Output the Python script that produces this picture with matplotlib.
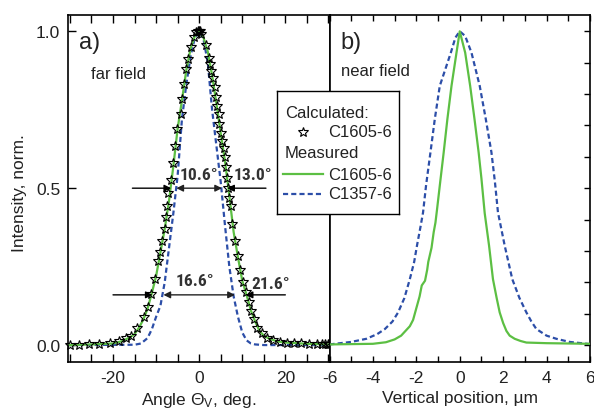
import matplotlib
matplotlib.use("Agg")
import matplotlib.pyplot as plt
from matplotlib.ticker import MultipleLocator, FormatStrFormatter
from matplotlib.lines import Line2D
from matplotlib import font_manager

plt.rcParams['font.family'] = ['Liberation Sans', 'DejaVu Sans']
plt.rcParams['mathtext.fontset'] = 'custom'
plt.rcParams['mathtext.rm'] = 'Liberation Sans'
plt.rcParams['mathtext.it'] = 'Liberation Sans'
plt.rcParams['axes.unicode_minus'] = False

TEXT = '#222222'
GREEN = '#5cbf43'
BLUE = '#2c4ea8'


def _condensed_bold():
    """Pick an installed condensed/narrow bold sans face for the width labels."""
    best = None
    for f in font_manager.fontManager.ttflist:
        name = f.name
        tag = (str(f.stretch) + ' ' + name + ' ' + f.fname).lower()
        narrow = ('condensed' in tag or 'narrow' in tag) and 'semi' not in tag \
            and 'extra' not in tag and 'ultra' not in tag
        weight = f.weight if isinstance(f.weight, int) else \
            {'bold': 700, 'semibold': 600, 'normal': 400}.get(str(f.weight), 400)
        if not narrow or weight < 600 or f.style != 'normal':
            continue
        if 'mono' in tag or 'serif' in name.lower() and 'sans' not in name.lower():
            continue
        rank = 0 if 'liberation' in tag else 1 if 'roboto' in tag else \
            2 if 'noto sans' in tag else 3 if 'dejavu' in tag else 4
        if best is None or rank < best[0]:
            best = (rank, f.fname)
    if best:
        return dict(fontproperties=font_manager.FontProperties(fname=best[1], size=12.5))
    return dict(family=['Liberation Sans'], fontsize=11, fontweight='bold')


WIDTH_FONT = _condensed_bold()

# ---- far field (angle, deg) ----
calc_angle = [-30.1, -27.9, -25.6, -23.3, -20.8, -18.6, -16.9, -15.8, -14.4, -12.8,
              -11.9, -11.1, -10.2, -9.6, -9.0, -8.6, -8.0, -7.6, -7.4, -7.3,
              -6.6, -6.1, -5.7, -5.2, -4.3, -3.9, -3.5, -3.0, -2.5, -1.9,
              -1.2, -0.7, -0.3, 0.0, 0.3, 0.5, 1.6, 2.25, 2.55, 2.8,
              3.2, 3.6, 3.9, 4.2, 4.5, 4.7, 5.0, 5.3, 5.7, 5.9,
              6.3, 6.5, 6.8, 7.0, 7.3, 7.7, 8.4, 9.0, 9.5, 10.1,
              10.9, 11.5, 12.1, 12.7, 13.5, 14.5, 15.8, 17.1, 18.7, 20.4,
              22.1, 23.7, 25.6, 27.4, 28.6, 29.3, 29.8, 30.2]
calc_int = [0.001, 0.001, 0.003, 0.003, 0.006, 0.014, 0.021, 0.030, 0.054, 0.088,
            0.122, 0.162, 0.210, 0.267, 0.297, 0.332, 0.369, 0.407, 0.444, 0.486,
            0.525, 0.579, 0.635, 0.688, 0.738, 0.783, 0.833, 0.879, 0.913, 0.950,
            0.983, 0.999, 1.0, 1.0, 1.0, 0.993, 0.957, 0.916, 0.895, 0.874,
            0.850, 0.821, 0.791, 0.762, 0.736, 0.704, 0.677, 0.651, 0.628, 0.598,
            0.566, 0.534, 0.502, 0.470, 0.444, 0.385, 0.332, 0.284, 0.239, 0.200,
            0.168, 0.136, 0.107, 0.083, 0.054, 0.037, 0.024, 0.016, 0.011, 0.008,
            0.006, 0.005, 0.003, 0.003, 0.003, 0.003, 0.003, 0.003]

far_angle_c1605 = [-30, -25, -20, -18, -16, -15, -14, -13, -12, -11, -10, -9, -8, -7, -6,
                   -5, -4, -3, -2, -1, 0, 1, 2, 3, 4, 5, 6, 7, 8, 9, 10, 11, 12, 13,
                   14, 15, 16, 18, 20, 25, 30]
far_int_c1605 = [0.0, 0.002, 0.005, 0.012, 0.025, 0.035, 0.055, 0.08, 0.115, 0.165,
                 0.22, 0.295, 0.37, 0.46, 0.57, 0.69, 0.78, 0.875, 0.945, 0.985, 1.0,
                 0.98, 0.935, 0.86, 0.77, 0.675, 0.585, 0.475, 0.36, 0.28, 0.205,
                 0.16, 0.11, 0.075, 0.045, 0.03, 0.022, 0.012, 0.008, 0.004, 0.002]

far_angle_c1357 = [-30, -15, -13.5, -12, -11, -10, -9, -8, -7, -6, -5, -4, -3, -2, -1,
                   0, 1, 2, 3, 4, 5, 6, 7, 8, 9, 10, 11, 12, 13, 15, 30]
far_int_c1357 = [0.0, 0.001, 0.005, 0.022, 0.05, 0.09, 0.125, 0.2, 0.31, 0.42, 0.54,
                 0.72, 0.83, 0.92, 0.98, 1.0, 0.975, 0.9, 0.75, 0.635, 0.52, 0.38,
                 0.25, 0.155, 0.09, 0.04, 0.015, 0.005, 0.002, 0.0, 0.0]

# widths marked with arrows: (level, inner width, outer width, arrow start)
width_level = [0.5, 0.16]
width_inner = [10.6, 16.6]
width_outer = [13.0, 21.6]
arrow_reach = [15.5, 20.0]

# ---- near field (vertical position, um) ----
near_pos_c1605 = [-6, -5, -4, -3.4, -3.0, -2.7, -2.5, -2.3, -2.15, -2.05, -1.95, -1.85,
                  -1.75, -1.6, -1.5, -1.45, -1.3, -1.2, -1.12, -1.05, -0.9, -0.74,
                  -0.57, -0.38, -0.15, 0.0, 0.25, 0.48, 0.68, 0.87, 1.0, 1.15, 1.35,
                  1.53, 1.7, 1.84, 2.0, 2.15, 2.3, 2.53, 2.8, 3.07, 4, 5, 6]
near_int_c1605 = [0.002, 0.003, 0.004, 0.009, 0.018, 0.03, 0.045, 0.06, 0.08, 0.105,
                  0.13, 0.155, 0.19, 0.205, 0.24, 0.265, 0.31, 0.36, 0.39, 0.43, 0.52,
                  0.614, 0.72, 0.826, 0.932, 1.0, 0.932, 0.826, 0.72, 0.614, 0.53,
                  0.42, 0.317, 0.21, 0.15, 0.104, 0.07, 0.045, 0.03, 0.02, 0.013,
                  0.008, 0.006, 0.005, 0.004]

near_pos_c1357 = [-6, -5, -4.3, -3.8, -3.45, -3.1, -2.84, -2.55, -2.3, -2.1, -1.97,
                  -1.8, -1.69, -1.55, -1.35, -1.15, -0.92, -0.41, -0.2, 0.0, 0.25,
                  0.54, 0.92, 1.2, 1.46, 1.62, 1.76, 2.07, 2.42, 2.75, 3.07, 3.3,
                  3.53, 4.0, 4.45, 5.06, 6]
near_int_c1357 = [0.002, 0.01, 0.02, 0.035, 0.051, 0.075, 0.104, 0.15, 0.21, 0.265,
                  0.317, 0.38, 0.423, 0.51, 0.614, 0.72, 0.826, 0.932, 0.98, 1.0,
                  0.985, 0.932, 0.826, 0.72, 0.614, 0.52, 0.423, 0.317, 0.21, 0.15,
                  0.104, 0.075, 0.051, 0.03, 0.02, 0.01, 0.003]

fig = plt.figure(figsize=(5.94, 4.10), dpi=100)
W, H = 594.0, 410.0
axL = fig.add_axes([68 / W, 1 - 363 / H, 261.5 / W, 347 / H])
axR = fig.add_axes([329.5 / W, 1 - 363 / H, 260.5 / W, 347 / H])

dash = (0, (2.3, 1.4))

# panel a: far field
axL.plot(far_angle_c1357, far_int_c1357, color=BLUE, lw=1.6, linestyle=dash, zorder=2)
axL.plot(far_angle_c1605, far_int_c1605, color=GREEN, lw=1.6, zorder=3)
axL.plot(calc_angle, calc_int, linestyle='none', marker='*', markersize=7,
         markerfacecolor='none', markeredgecolor='black', markeredgewidth=0.8,
         zorder=4, clip_on=False)

for lvl, w_in, w_out, reach in zip(width_level, width_inner, width_outer, arrow_reach):
    ap = dict(arrowstyle='-|>', color='black', lw=1.0, mutation_scale=10,
              shrinkA=0, shrinkB=0)
    axL.annotate('', xy=(-w_out / 2, lvl), xytext=(-reach, lvl), arrowprops=ap, zorder=5)
    axL.annotate('', xy=(w_out / 2, lvl), xytext=(reach, lvl), arrowprops=ap, zorder=5)
    axL.annotate('', xy=(w_in / 2, lvl), xytext=(-w_in / 2, lvl),
                 arrowprops=dict(arrowstyle='<|-|>', color='#222222', lw=1.0,
                                 mutation_scale=10, shrinkA=0, shrinkB=0), zorder=5)

lab_kw = dict(color='#333333', va='center', **WIDTH_FONT)
axL.text(-4.6, 0.545, f'{width_inner[0]:.1f}°', ha='left', **lab_kw)
axL.text(8.0, 0.545, f'{width_outer[0]:.1f}°', ha='left', **lab_kw)
axL.text(-1.0, 0.207, f'{width_inner[1]:.1f}°', ha='center', **lab_kw)
axL.text(12.1, 0.197, f'{width_outer[1]:.1f}°', ha='left', **lab_kw)

axL.set_xlim(-30.45, 30.25)
axL.xaxis.set_major_locator(MultipleLocator(20))
axL.xaxis.set_minor_locator(MultipleLocator(5))
axL.yaxis.set_major_locator(MultipleLocator(0.5))
axL.yaxis.set_major_formatter(FormatStrFormatter('%.1f'))
axL.tick_params(which='both', direction='in', top=True, right=False,
                length=5.5, width=1.0, labelsize=12.5, labelcolor=TEXT, pad=5.5)
axL.set_ylabel('Intensity, norm.', fontsize=12.5, color=TEXT)
axL.yaxis.set_label_coords(-0.158, 0.49)
axL.set_xlabel('Angle Θ$_\\mathrm{V}$, deg.', fontsize=12.5, color=TEXT)
axL.xaxis.set_label_coords(0.5, -0.08)
axL.text(0.042, 0.922, 'a)', transform=axL.transAxes, fontsize=17, color=TEXT,
         va='center', ha='left')
axL.text(0.088, 0.83, 'far field', transform=axL.transAxes, fontsize=12, color=TEXT,
         va='center', ha='left')

# panel b: near field
axR.plot(near_pos_c1357, near_int_c1357, color=BLUE, lw=1.6, linestyle=dash, zorder=2)
axR.plot(near_pos_c1605, near_int_c1605, color=GREEN, lw=1.6, zorder=3)
axR.set_xlim(-6, 6)
axR.xaxis.set_major_locator(MultipleLocator(2))
axR.xaxis.set_minor_locator(MultipleLocator(1))
axR.yaxis.set_major_locator(MultipleLocator(0.5))
axR.yaxis.set_minor_locator(MultipleLocator(0.1))
axR.tick_params(which='both', direction='in', top=True, right=True, left=False,
                labelleft=False, labelright=False, length=4.5, width=1.0,
                labelsize=12.5, labelcolor=TEXT, pad=5.5)
axR.set_xlabel('Vertical position, µm', fontsize=12.5, color=TEXT)
axR.xaxis.set_label_coords(0.5, -0.08)
axR.text(0.043, 0.922, 'b)', transform=axR.transAxes, fontsize=17, color=TEXT,
         va='center', ha='left')
axR.text(0.043, 0.841, 'near field', transform=axR.transAxes, fontsize=12, color=TEXT,
         va='center', ha='left')

for ax in (axL, axR):
    ax.set_ylim(-0.054, 1.052)
    for sp in ax.spines.values():
        sp.set_linewidth(1.2)
        sp.set_color('black')

# legend box spanning both panels
lg = fig.add_axes([277 / W, 1 - 215 / H, 122 / W, 123 / H], zorder=10)
lg.set_xlim(0, 1)
lg.set_ylim(0, 1)
lg.set_xticks([])
lg.set_yticks([])
lg.set_facecolor('white')
for sp in lg.spines.values():
    sp.set_linewidth(1.0)
    sp.set_color('black')
rows = [0.829, 0.667, 0.496, 0.325, 0.163]
lg.text(0.066, rows[0], 'Calculated:', fontsize=12, color=TEXT, va='center')
lg.add_line(Line2D([0.216], [rows[1]], linestyle='none', marker='*', markersize=7,
                   markerfacecolor='none', markeredgecolor='black', markeredgewidth=0.8))
lg.text(0.42, rows[1], 'C1605-6', fontsize=12, color=TEXT, va='center')
lg.text(0.066, rows[2], 'Measured', fontsize=12, color=TEXT, va='center')
lg.add_line(Line2D([0.052, 0.38], [rows[3], rows[3]], color=GREEN, lw=1.6))
lg.text(0.42, rows[3], 'C1605-6', fontsize=12, color=TEXT, va='center')
lg.add_line(Line2D([0.052, 0.38], [rows[4], rows[4]], color=BLUE, lw=1.6, linestyle=dash))
lg.text(0.42, rows[4], 'C1357-6', fontsize=12, color=TEXT, va='center')

fig.savefig('out.png', dpi=100)
